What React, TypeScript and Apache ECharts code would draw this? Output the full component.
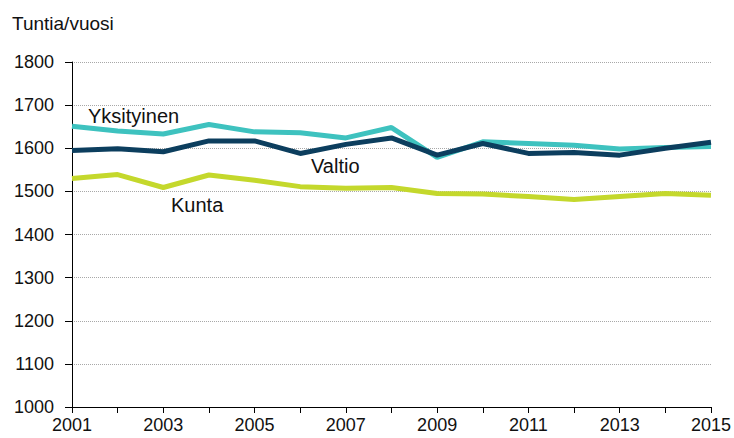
import React, { useEffect, useRef } from "react";
import * as echarts from "echarts";

const years = ["2001","2002","2003","2004","2005","2006","2007","2008","2009","2010","2011","2012","2013","2014","2015"];
const yksityinen = [1651, 1640, 1633, 1655, 1638, 1636, 1624, 1648, 1579, 1615, 1611, 1607, 1598, 1602, 1604];
const valtio = [1595, 1599, 1592, 1617, 1617, 1588, 1609, 1624, 1584, 1611, 1588, 1590, 1584, 1600, 1614];
const kunta = [1530, 1539, 1509, 1538, 1526, 1511, 1507, 1509, 1495, 1494, 1488, 1481, 1488, 1495, 1491];

const FONT = "Liberation Sans, Arial, sans-serif";
const TEXT = "#111";

export default function App() {
  const ref = useRef<HTMLDivElement>(null);
  useEffect(() => {
    const chart = echarts.init(ref.current!, null, { renderer: "svg" });
    const line = (name: string, data: number[], color: string) => ({
      type: "line",
      name,
      data,
      symbol: "none",
      lineStyle: { width: 5, color },
      itemStyle: { color },
    });
    chart.setOption({
      animation: false,
      backgroundColor: "#ffffff",
      grid: { left: 72, right: 23, top: 62, bottom: 31 },
      xAxis: {
        type: "category",
        data: years,
        boundaryGap: false,
        axisLine: { lineStyle: { color: "#000", width: 1 } },
        axisTick: { show: true, interval: 0, length: 6, lineStyle: { color: "#000" } },
        axisLabel: { interval: 1, color: TEXT, fontSize: 18, fontFamily: FONT, margin: 9 },
        splitLine: { show: false },
      },
      yAxis: {
        type: "value",
        min: 1000,
        max: 1800,
        interval: 100,
        axisLine: { show: true, lineStyle: { color: "#000", width: 1 } },
        axisTick: { show: true, length: 7, lineStyle: { color: "#000" } },
        axisLabel: { color: TEXT, fontSize: 18, fontFamily: FONT, margin: 18, formatter: (v: number) => String(v) },
        splitLine: { show: true, lineStyle: { color: "#a8a8a8", type: "dotted", width: 1 } },
      },
      series: [
        line("Kunta", kunta, "#c4d82c"),
        line("Yksityinen", yksityinen, "#3ec2bf"),
        line("Valtio", valtio, "#0c3e5e"),
      ],
      graphic: [
        { type: "text", x: 12, y: 23, style: { text: "Tuntia/vuosi", fontSize: 19, fontFamily: FONT, fill: TEXT, verticalAlign: "middle" } },
        { type: "text", x: 88, y: 116, style: { text: "Yksityinen", fontSize: 20, fontFamily: FONT, fill: TEXT, verticalAlign: "middle" } },
        { type: "text", x: 311, y: 166, style: { text: "Valtio", fontSize: 20, fontFamily: FONT, fill: TEXT, verticalAlign: "middle" } },
        { type: "text", x: 171, y: 205, style: { text: "Kunta", fontSize: 20, fontFamily: FONT, fill: TEXT, verticalAlign: "middle" } },
      ],
    });
    return () => chart.dispose();
  }, []);
  return <div ref={ref} style={{ width: 734, height: 438, position: "absolute", left: 0, top: 0 }} />;
}
